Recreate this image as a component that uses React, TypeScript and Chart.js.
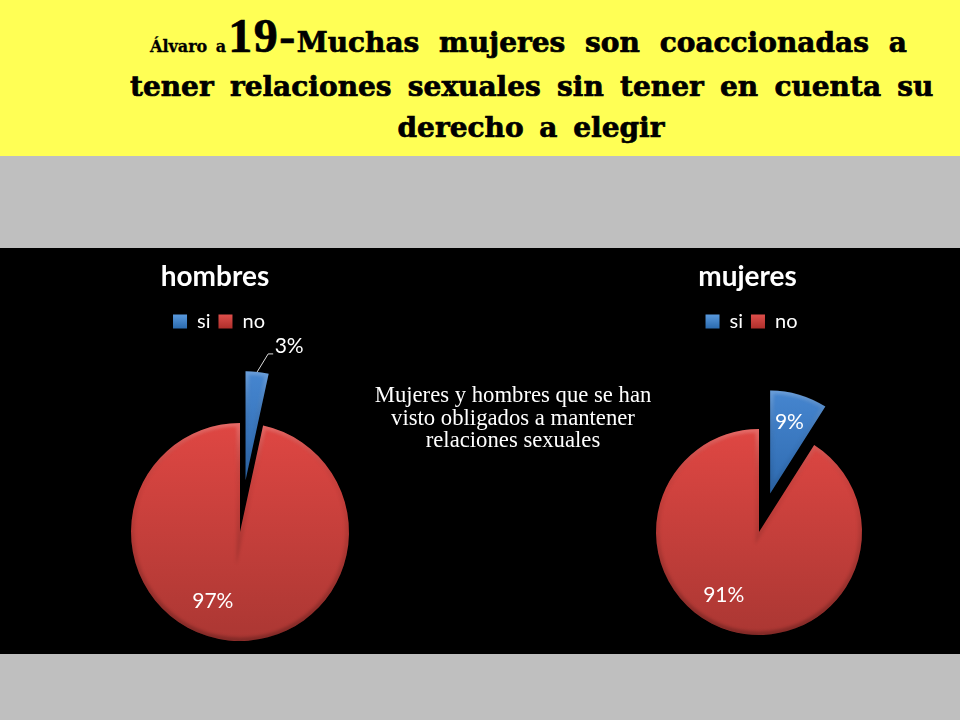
import { useEffect, useRef } from 'react';
import { Chart, registerables } from 'chart.js';

Chart.register(...registerables);

const categories = ['si', 'no'];
const hombresValues = [3.4, 96.6];
const mujeresValues = [9, 91];
const hombresExplode = [52, 0];
const mujeresExplode = [40, 0];

const labelFont = 'Lato, "Open Sans", sans-serif';

// blue / red, top and bottom of the vertical shading
const shades = [
  ['#4686d0', '#2f6bb0'],
  ['#df4743', '#ab3733'],
];
const legendShades = [
  ['#5b9bdf', '#2c6cb0'],
  ['#e0504c', '#b0302c'],
];

// moves the pie off the centre of the canvas and pulls out the exploded slice
const piePlugin = {
  id: 'piePlugin',
  afterLayout(chart: any, _args: any, opts: any) {
    const area = chart.chartArea;
    const w = area.right - area.left;
    const h = area.bottom - area.top;
    area.left = opts.cx - w / 2;
    area.right = opts.cx + w / 2;
    area.top = opts.cy - h / 2;
    area.bottom = opts.cy + h / 2;
    chart.legend.left += opts.legendShift;
    chart.legend.right += opts.legendShift;
  },
  afterDatasetsUpdate(chart: any, _args: any, opts: any) {
    chart.getDatasetMeta(0).data.forEach((arc: any, i: number) => {
      const d = opts.explode[i];
      const mid = (arc.startAngle + arc.endAngle) / 2;
      arc.x += Math.cos(mid) * d;
      arc.y += Math.sin(mid) * d;
    });
  },
  // bevel along the edge of each slice
  afterDatasetsDraw(chart: any) {
    const ctx = chart.ctx;
    chart.getDatasetMeta(0).data.forEach((arc: any) => {
      const r = arc.outerRadius;
      const path = new Path2D();
      path.moveTo(arc.x, arc.y);
      path.arc(arc.x, arc.y, r, arc.startAngle, arc.endAngle);
      path.closePath();
      const edge = ctx.createLinearGradient(0, arc.y - r, 0, arc.y + r);
      edge.addColorStop(0, 'rgba(255,255,255,0.20)');
      edge.addColorStop(0.3, 'rgba(0,0,0,0.04)');
      edge.addColorStop(1, 'rgba(0,0,0,0.24)');
      ctx.save();
      ctx.clip(path);
      ctx.strokeStyle = edge;
      ctx.lineWidth = 7;
      ctx.filter = 'blur(1.5px)';
      ctx.stroke(path);
      ctx.restore();
    });
  },
};

// percent labels, placed relative to the middle of each slice
const percentPlugin = {
  id: 'percentPlugin',
  afterDraw(chart: any, _args: any, opts: any) {
    const ctx = chart.ctx;
    const values = chart.data.datasets[0].data;
    const total = values.reduce((a: number, b: number) => a + b, 0);
    chart.getDatasetMeta(0).data.forEach((arc: any, i: number) => {
      const mid = (arc.startAngle + arc.endAngle) / 2;
      const rr = arc.outerRadius * opts.radial[i];
      const x = arc.x + Math.cos(mid) * rr + opts.dx[i];
      const y = arc.y + Math.sin(mid) * rr + opts.dy[i];
      ctx.save();
      ctx.fillStyle = '#fff';
      ctx.font = `21px ${labelFont}`;
      ctx.textAlign = 'center';
      ctx.textBaseline = 'middle';
      ctx.fillText(Math.round((values[i] / total) * 100) + '%', x, y);
      if (opts.leader[i]) {
        const ex = arc.x + Math.cos(mid) * arc.outerRadius;
        const ey = arc.y + Math.sin(mid) * arc.outerRadius;
        ctx.strokeStyle = '#ddd';
        ctx.lineWidth = 1;
        ctx.beginPath();
        ctx.moveTo(ex, ey);
        ctx.lineTo(x - 21, y + 8);
        ctx.lineTo(x - 16, y + 8);
        ctx.stroke();
      }
      ctx.restore();
    });
  },
};

type PieProps = {
  title: string;
  values: number[];
  explode: number[];
  radius: number;
  cx: number;
  cy: number;
  radial: number[];
  dx: number[];
  dy: number[];
  leader: boolean[];
  style: React.CSSProperties;
};

const Pie = ({ title, values, explode, radius, cx, cy, radial, dx, dy, leader, style }: PieProps) => {
  const canvasRef = useRef<HTMLCanvasElement | null>(null);

  useEffect(() => {
    if (!canvasRef.current) return;
    const chart = new Chart(canvasRef.current, {
      type: 'pie',
      plugins: [piePlugin, percentPlugin],
      data: {
        labels: categories,
        datasets: [
          {
            data: values,
            clip: false,
            borderWidth: 0,
            backgroundColor: (c: any) => {
              const d = explode[c.dataIndex];
              const g = c.chart.ctx.createLinearGradient(0, cy - radius - d, 0, d ? cy - d : cy + radius);
              g.addColorStop(0, shades[c.dataIndex][0]);
              g.addColorStop(1, shades[c.dataIndex][1]);
              return g;
            },
          },
        ],
      },
      options: {
        animation: false,
        responsive: false,
        events: [],
        radius,
        layout: { padding: { top: 12 } },
        plugins: {
          title: {
            display: true,
            text: title,
            color: '#fff',
            font: { family: labelFont, size: 28, weight: 'bold' },
            padding: { top: 0, bottom: 10 },
          },
          legend: {
            position: 'top',
            labels: {
              color: '#fff',
              font: { family: labelFont, size: 20 },
              boxWidth: 14,
              boxHeight: 14,
              padding: 8,
              generateLabels: (chart: any) =>
                categories.map((text, i) => {
                  const g = chart.ctx.createLinearGradient(0, 66, 0, 80);
                  g.addColorStop(0, legendShades[i][0]);
                  g.addColorStop(1, legendShades[i][1]);
                  return { text, fillStyle: g, strokeStyle: g, lineWidth: 0, fontColor: '#fff', index: i };
                }),
            },
          },
          tooltip: { enabled: false },
          piePlugin: { cx, cy, explode, legendShift: 4 },
          percentPlugin: { radial, dx, dy, leader },
        },
      } as any,
    });
    return () => chart.destroy();
  }, []);

  return <canvas ref={canvasRef} width={style.width as number} height={406} style={{ position: 'absolute', ...style }} />;
};

const titleLine: React.CSSProperties = {
  position: 'absolute',
  whiteSpace: 'nowrap',
  fontFamily: '"DejaVu Serif", serif',
  fontWeight: 'bold',
  fontSize: 28,
  color: '#000',
  WebkitTextStroke: '0.7px #000',
};

export default function App() {
  return (
    <div style={{ position: 'fixed', left: 0, top: 0, width: 960, height: 720, background: '#bfbfbf', overflow: 'hidden' }}>
      <div style={{ position: 'absolute', left: 0, top: 0, width: 960, height: 156, background: '#ffff55' }} />
      <div style={{ position: 'absolute', left: 0, top: 248, width: 960, height: 406, background: '#000' }} />

      <div style={{ ...titleLine, top: 3, left: 150, lineHeight: '66px', wordSpacing: 10 }}>
        <span style={{ fontSize: 16, wordSpacing: 3, WebkitTextStroke: '0.3px #000' }}>Álvaro a</span>
        <span style={{ fontSize: 48, letterSpacing: 1.5, marginLeft: 2, fontFamily: '"Liberation Serif", serif' }}>19-</span>
        Muchas mujeres son coaccionadas a
      </div>
      <div style={{ ...titleLine, top: 67, left: 130, lineHeight: '40px', wordSpacing: 6.5 }}>
        tener relaciones sexuales sin tener en cuenta su
      </div>
      <div style={{ ...titleLine, top: 108, left: 51, width: 960, lineHeight: '40px', textAlign: 'center', wordSpacing: 6 }}>
        derecho a elegir
      </div>

      <Pie
        title="hombres"
        values={hombresValues}
        explode={hombresExplode}
        radius={109}
        cx={240}
        cy={284}
        radial={[1, 0.62]}
        dx={[32, -20]}
        dy={[-26, 2]}
        leader={[true, false]}
        style={{ left: 0, top: 248, width: 430 }}
      />
      <Pie
        title="mujeres"
        values={mujeresValues}
        explode={mujeresExplode}
        radius={103}
        cx={224}
        cy={284}
        radial={[0.6, 0.6]}
        dx={[2, -18]}
        dy={[-12, 4]}
        leader={[false, false]}
        style={{ left: 535, top: 248, width: 425 }}
      />

      <div
        style={{
          position: 'absolute',
          left: 353,
          top: 384,
          width: 320,
          textAlign: 'center',
          color: '#fff',
          fontFamily: '"Liberation Serif", serif',
          fontSize: 22.7,
          lineHeight: '22.5px',
        }}
      >
        Mujeres y hombres que se han
        <br />
        visto obligados a mantener
        <br />
        relaciones sexuales
      </div>
    </div>
  );
}
